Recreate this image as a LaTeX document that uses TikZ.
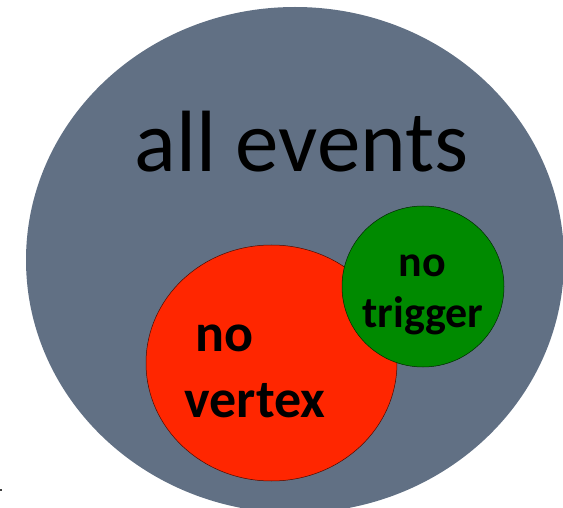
\documentclass[tikz,border=0pt]{standalone}
\usepackage{fontspec}
\setmainfont{Carlito}
\usetikzlibrary{shapes.geometric}
\definecolor{setgray}{RGB}{97,112,132}
\definecolor{setred}{RGB}{255,38,0}
\definecolor{setgreen}{RGB}{0,138,0}
\tikzset{
  setshape/.style={ellipse, inner sep=0pt},
  bigtitle/.style={anchor=base, inner sep=0pt, font=\fontsize{87}{90}\selectfont},
  redlabel/.style={anchor=base, inner sep=0pt, font=\fontsize{54}{60}\selectfont\bfseries},
  greenlabel/.style={anchor=base, inner sep=0pt, font=\fontsize{44}{50}\selectfont\bfseries},
}
\begin{document}
\begin{tikzpicture}[x=1pt,y=1pt]
  \useasboundingbox (0,0) rectangle (563,507);
  \clip (0,0) rectangle (563,507);
  % the whole sample
  \node[setshape, fill=setgray, minimum width=538pt, minimum height=506pt] (all) at (295,247) {};
  % events without a reconstructed vertex
  \node[setshape, fill=setred, draw=black!70!setred, line width=0.5pt,
        minimum width=251pt, minimum height=236pt] (novtx) at (271.5,144) {};
  % events without a trigger
  \node[setshape, fill=setgreen, draw=black!70!setgreen, line width=0.5pt,
        minimum width=162pt, minimum height=161pt] (notrg) at (423,220.5) {};
  % labels
  \node[bigtitle] (alltext) at (301.5,335) {all events};
  \node[redlabel] (vtxa) at (225,155) {no};
  \node[redlabel] (vtxb) at (255,90) {vertex};
  \node[greenlabel] (trga) at (422.5,230) {no};
  \node[greenlabel] (trgb) at (423,179) {trigger};
  % small mark at the left edge
  \fill[black!75] (0,16) rectangle (1.5,18);
\end{tikzpicture}
\end{document}
